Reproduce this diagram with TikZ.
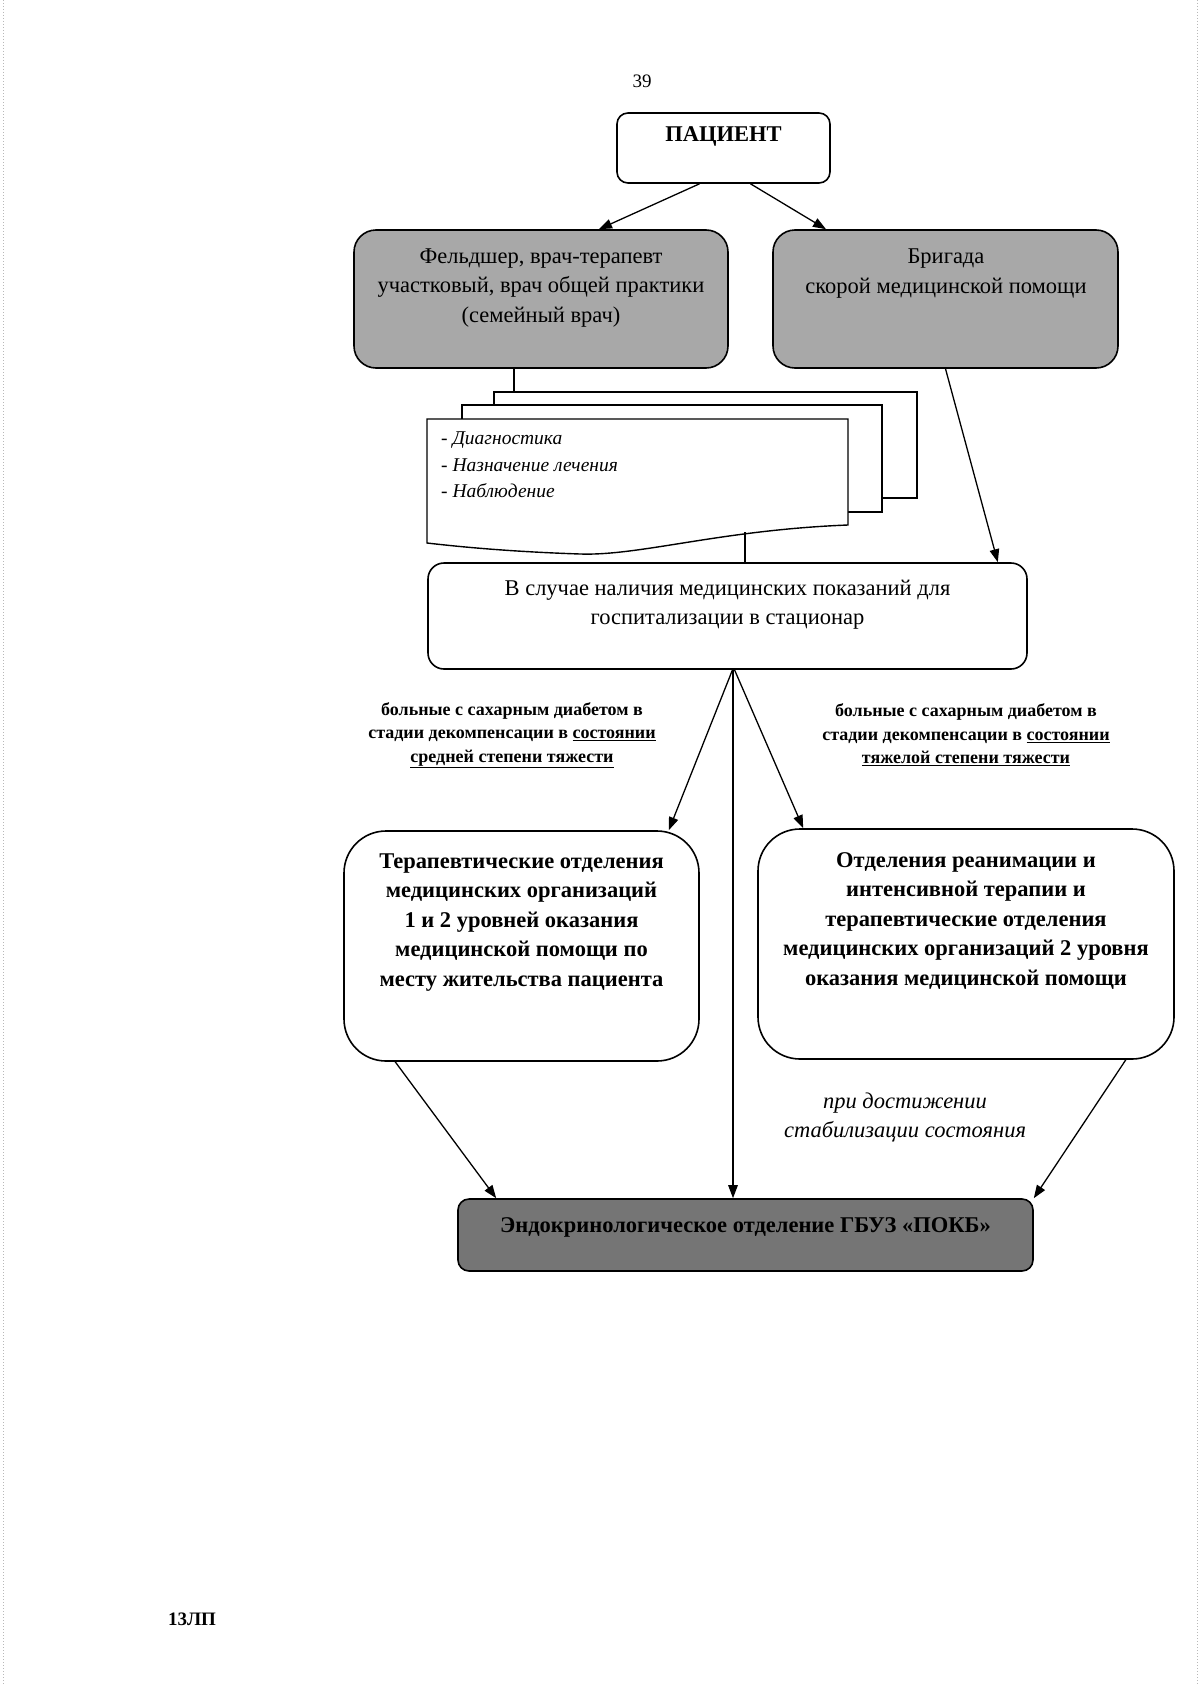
\documentclass[tikz,border=0pt]{standalone}
\usepackage{fontspec}
\setmainfont{Liberation Serif}
\usetikzlibrary{arrows.meta,calc}
\definecolor{boxgray}{gray}{0.66}
\definecolor{endogray}{gray}{0.46}
\definecolor{scangray}{gray}{0.72}
\begin{document}
\begin{tikzpicture}[x=1pt,y=-1pt,
  box/.style={draw, line width=1.6pt, inner sep=0pt},
  sheet/.style={draw, line width=1.4pt, fill=white},
  txt/.style={align=center, inner sep=0pt, font=\fontsize{22.5}{29.5}\selectfont},
  btxt/.style={align=center, inner sep=0pt, font=\fontsize{22.5}{29.5}\selectfont\bfseries},
  lbl/.style={align=center, inner sep=0pt, font=\fontsize{18}{23.5}\selectfont\bfseries},
  arr/.style={line width=1.3pt, -{Triangle[length=13pt,width=9.5pt]}},
  ln/.style={line width=1.3pt}]
\useasboundingbox (0,0) rectangle (1200,1686);
\fill[white] (0,0) rectangle (1200,1686);
\draw[scangray, line width=1pt, dotted] (3,0) -- (3,1686);
\draw[scangray, line width=1pt, dotted] (1197,0) -- (1197,1686);

% page number and footer
\node[txt, font=\fontsize{19}{22}\selectfont] (pg) at (642,81) {39};
\node[txt, font=\fontsize{19}{22}\selectfont\bfseries] (foot) at (192,1619) {13ЛП};

% patient
\node[box, rounded corners=11pt, minimum width=213pt, minimum height=70pt] (pat) at (723.5,148) {};
\node[btxt] (patt) at (723.5,136) {ПАЦИЕНТ};

% gray boxes
\node[box, rounded corners=22pt, fill=boxgray, minimum width=374pt, minimum height=138pt] (fel) at (541,299) {};
\node[txt] (felt) at (541,288) {Фельдшер, врач-терапевт\\участковый, врач общей практики\\(семейный врач)};
\node[box, rounded corners=22pt, fill=boxgray, minimum width=345pt, minimum height=138pt] (brig) at (945.5,299) {};
\node[txt] (brigt) at (946,273.5) {Бригада\\скорой медицинской помощи};

% document stack
\node[sheet, minimum width=423pt, minimum height=106pt, inner sep=0pt] (back) at (705.5,445) {};
\node[sheet, minimum width=420pt, minimum height=107pt, inner sep=0pt] (mid) at (672,458.5) {};
\draw[sheet] (427,419) -- (848,419) -- (848,525)
  .. controls (720,530) and (640,556) .. (580,554)
  .. controls (520,552) and (470,548) .. (427,543) -- cycle;
\node[align=left, inner sep=0pt, anchor=west, font=\fontsize{19.5}{26.5}\selectfont\itshape] (list) at (441,465)
  {- Диагностика\\- Назначение лечения\\- Наблюдение};
\coordinate (dl) at (514,392);
\draw[ln] (fel.south -| dl) -- (dl);

% hospitalisation box
\node[box, rounded corners=16pt, minimum width=599pt, minimum height=106pt] (sl) at (727.5,616) {};
\node[txt] (slt) at (727.5,604.5) {В случае наличия медицинских показаний для\\госпитализации в стационар};
\coordinate (dc) at (745,532);
\draw[ln] (dc) -- (sl.north -| dc);
\draw[arr] (brig.south) -- ($(sl.north east)+(-30,0)$);

% labels
\node[lbl] (lab1) at (512,735) {больные с сахарным диабетом в\\стадии декомпенсации в \underline{состоянии}\\\underline{средней степени тяжести}};
\node[lbl] (lab2) at (966,735) {больные с сахарным диабетом в\\стадии декомпенсации в \underline{состоянии}\\\underline{тяжелой степени тяжести}};

% departments
\node[box, rounded corners=42pt, minimum width=355pt, minimum height=230pt] (ter) at (521.5,946) {};
\node[btxt] (tert) at (521.5,922.5) {Терапевтические отделения\\медицинских организаций\\1 и 2 уровней оказания\\медицинской помощи по\\месту жительства пациента};
\node[box, rounded corners=42pt, minimum width=416pt, minimum height=230pt] (rean) at (966,944) {};
\node[btxt] (reant) at (966,920.5) {Отделения реанимации и\\интенсивной терапии и\\терапевтические отделения\\медицинских организаций 2 уровня\\оказания медицинской помощи};

% endocrinology
\node[box, rounded corners=11pt, fill=endogray, minimum width=575pt, minimum height=72pt] (endo) at (745.5,1235) {};
\node[btxt] (endot) at (745.5,1227) {Эндокринологическое отделение ГБУЗ «ПОКБ»};

\node[txt, font=\fontsize{22.5}{29}\selectfont\itshape] (stab) at (905,1117) {при достижении\\стабилизации состояния};

% arrows
\draw[arr] ($(pat.south)+(-24,0)$) -- ($(fel.north)+(58,0)$);
\draw[arr] ($(pat.south)+(27,0)$) -- ($(brig.north)+(-119.5,0)$);
\draw[arr] ($(sl.south)+(5,0)$) -- ($(ter.north east)+(-31,0)$);
\draw[arr] ($(sl.south)+(5.5,0)$) -- ($(endo.north)+(-12.5,0)$);
\draw[arr] ($(sl.south)+(7,0)$) -- ($(rean.north west)+(46,0)$);
\draw[arr] ($(ter.south west)+(52,0)$) -- ($(endo.north west)+(39,0)$);
\draw[arr] ($(rean.south east)+(-49,0)$) -- ($(endo.north east)+(0,0)$);
\end{tikzpicture}
\end{document}
